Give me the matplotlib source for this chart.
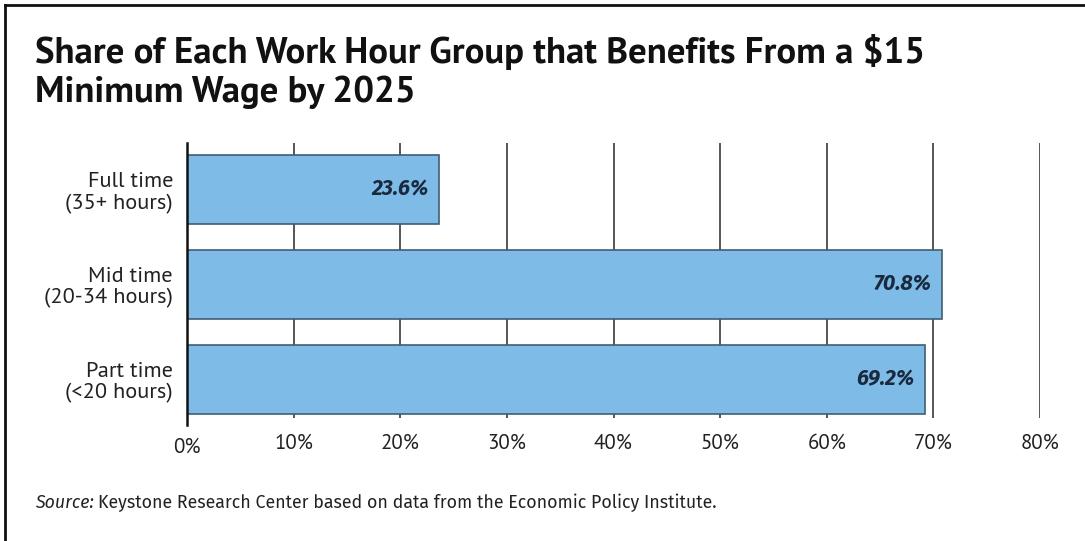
import matplotlib
matplotlib.use("Agg")
import matplotlib.pyplot as plt
from matplotlib.lines import Line2D
from matplotlib.transforms import ScaledTranslation

SANS = ["PT Sans", "DejaVu Sans"]
HUMANIST = ["Fira Sans", "DejaVu Sans"]

categories = ["Full time\n(35+ hours)", "Mid time\n(20-34 hours)", "Part time\n(<20 hours)"]
shares = [23.6, 70.8, 69.2]
tick_values = [0, 10, 20, 30, 40, 50, 60, 70, 80]
tick_labels = ["0%", "10%", "20%", "30%", "40%", "50%", "60%", "70%", "80%"]

title = "Share of Each Work Hour Group that Benefits From a $15\nMinimum Wage by 2025"
source_lead = "Source:"
source_body = "Keystone Research Center based on data from the Economic Policy Institute."

W, H = 1085, 541
fig = plt.figure(figsize=(W / 100, H / 100), dpi=100)
ax = fig.add_axes([187 / W, 123 / H, 853 / W, 275 / H])

ypos = list(range(len(categories)))
ax.barh(ypos, shares, height=0.73, color="#7fbbe7", edgecolor="#3f5e74",
        linewidth=1.2, zorder=3)

for y, v in zip(ypos, shares):
    ax.text(v - 1.0, y, f"{v:.1f}%", ha="right", va="center",
            fontsize=15.5, fontweight="bold", fontstyle="italic",
            color="#1a2a3e", family=HUMANIST, zorder=4)

ax.set_xlim(0, 80)
ax.set_ylim(2.41, -0.49)
for s in ax.spines.values():
    s.set_visible(False)

for t in tick_values[1:]:
    ax.axvline(t, color="#555555", linewidth=1.4, zorder=1)
ax.axvline(0, ymin=-0.025, ymax=1, color="#111111", linewidth=1.8, zorder=5,
           clip_on=False)

ax.set_yticks(ypos)
ax.set_yticklabels(categories, fontsize=16, family=SANS, color="#222222",
                   ha="right", linespacing=1.15)
ax.tick_params(axis="y", length=0, pad=10)
ax.set_xticks(tick_values)
ax.set_xticklabels(tick_labels, fontsize=15, family=SANS, color="#222222")
ax.tick_params(axis="x", length=0, pad=11)
# the "0%" label sits a little lower than the rest
first = ax.get_xticklabels()[0]
first.set_transform(first.get_transform() + ScaledTranslation(0, -4 / 100, fig.dpi_scale_trans))

fig.text(35 / W, 1 - 34 / H, title, ha="left", va="top", fontsize=26.5,
         fontweight="bold", family=SANS, color="#111111", linespacing=1.2)

# Source line: italic lead-in followed by regular text
src_a = fig.text(35 / W, 1 - 503 / H, source_lead, ha="left", va="center",
                 fontsize=12.8, fontstyle="italic", family=HUMANIST, color="#222222")
fig.canvas.draw()
bb = src_a.get_window_extent()
fig.text((bb.x1 + 4) / W, 1 - 503 / H, source_body,
         ha="left", va="center", fontsize=12.8, family=HUMANIST, color="#222222")

# Frame lines along the top and left edges
fig.add_artist(Line2D([5 / W, 5 / W], [0, 1 - 5 / H], transform=fig.transFigure,
                      color="#111111", linewidth=2))
fig.add_artist(Line2D([5 / W, 1], [1 - 5 / H, 1 - 5 / H], transform=fig.transFigure,
                      color="#111111", linewidth=2))

fig.savefig("out.png", dpi=100)
